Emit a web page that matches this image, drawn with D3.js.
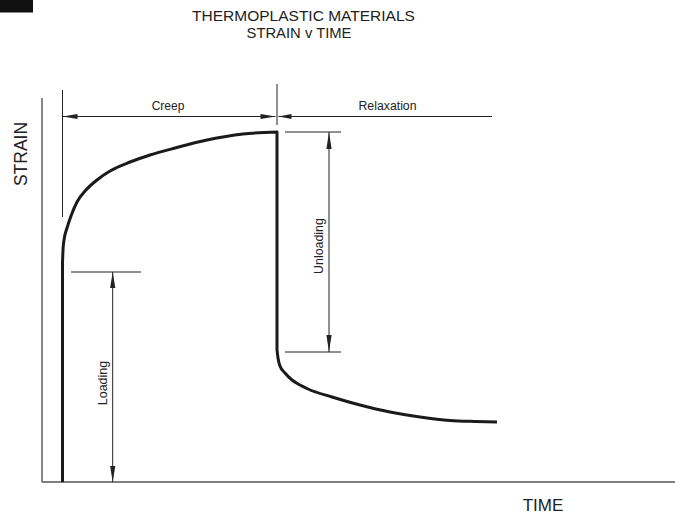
<!DOCTYPE html>
<html>
<head>
<meta charset="utf-8">
<script src="https://cdn.jsdelivr.net/npm/d3@7"></script>
<style>
  html, body { margin: 0; padding: 0; background: #fff; }
  svg { display: block; font-family: "Liberation Sans", Arial, Helvetica, sans-serif; }
</style>
</head>
<body>
<div id="chart"></div>
<script>
// ---------- DATA ----------
const titleLines = ["THERMOPLASTIC MATERIALS", "STRAIN v TIME"];
const xLabel = "TIME";
const yLabel = "STRAIN";
const phaseLabels = ["Creep", "Relaxation"];
const stepLabels = ["Loading", "Unloading"];

// strain curve: loading (first two points, straight) + creep (smooth)
const creepTime   = [2.05, 2.05, 2.1, 2.2, 2.5, 2.9, 3.5, 4.4, 5.5, 6.8, 8.8, 10.8, 13.3, 16.5, 20.1, 23.5];
const creepStrain = [0, 22.0, 23.2, 24.2, 25.4, 26.6, 28.0, 29.2, 30.2, 31.1, 32.0, 32.7, 33.4, 34.2, 34.8, 35.0];
// unloading (first two points, straight) + relaxation (smooth)
const relaxTime   = [23.5, 23.5, 23.6, 23.8, 24.3, 25.0, 25.8, 26.6, 29.0, 31.8, 34.8, 37.8, 40.8, 43.3, 45.5];
const relaxStrain = [35.0, 13.2, 12.4, 11.6, 10.9, 10.2, 9.7, 9.3, 8.5, 7.7, 7.0, 6.5, 6.15, 6.05, 6.0];

// key levels (data units)
const loadingLevel = 21;      // strain reached by instant loading
const unloadedLevel = 13;     // strain right after unloading
const relaxEndTime = 45;      // end of relaxation dimension line

// ---------- LAYOUT ----------
const W = 675, H = 514;
const x = d3.scaleLinear().domain([0, 63.3]).range([42, 675]);
const y = d3.scaleLinear().domain([0, 35]).range([482, 132]);

const svg = d3.select("#chart").append("svg").attr("width", W).attr("height", H);

// black tab in the corner
svg.append("rect").attr("x", 0).attr("y", 0).attr("width", 33).attr("height", 12.5).attr("fill", "#111");

// title
svg.append("text").attr("x", 303.5).attr("y", 20.5).attr("text-anchor", "middle")
  .attr("font-size", 15.5).attr("fill", "#222").text(titleLines[0]);
svg.append("text").attr("x", 299).attr("y", 38.3).attr("text-anchor", "middle")
  .attr("font-size", 14.8).attr("fill", "#222").text(titleLines[1]);

// axes (plain lines, no ticks)
const axisColor = "#555";
svg.append("line").attr("x1", x(0)).attr("x2", x(0)).attr("y1", y(38.4)).attr("y2", y(0))
  .attr("stroke", axisColor).attr("stroke-width", 1.4);
svg.append("line").attr("x1", x(0)).attr("x2", x(63.3)).attr("y1", y(0)).attr("y2", y(0))
  .attr("stroke", axisColor).attr("stroke-width", 1.6);

svg.append("text").attr("transform", `translate(27,154) rotate(-90)`).attr("text-anchor", "middle")
  .attr("font-size", 17.5).attr("fill", "#222").text(yLabel);
svg.append("text").attr("x", 543).attr("y", 511).attr("text-anchor", "middle")
  .attr("font-size", 17).attr("fill", "#222").text(xLabel);

// ---------- annotations ----------
const dimColor = "#222";
function hline(x1, x2, yy, w) {
  svg.append("line").attr("x1", x1).attr("x2", x2).attr("y1", yy).attr("y2", yy)
    .attr("stroke", dimColor).attr("stroke-width", w || 1);
}
function vline(xx, y1, y2, w) {
  svg.append("line").attr("x1", xx).attr("x2", xx).attr("y1", y1).attr("y2", y2)
    .attr("stroke", dimColor).attr("stroke-width", w || 1);
}
function arrow(tx, ty, dx, dy, L, hw) {
  L = L || 14; hw = hw || 2.8;
  const bx = tx - dx * L, by = ty - dy * L;
  const px = -dy, py = dx;
  svg.append("path")
    .attr("d", `M${tx},${ty}L${bx + px * hw},${by + py * hw}L${bx - px * hw},${by - py * hw}Z`)
    .attr("fill", dimColor);
}

const tStart = creepTime[0];
const tPeak = creepTime[creepTime.length - 1];
const dimY = 116.5;

// extension lines at top
vline(x(tStart), 90, 217);
vline(x(tPeak), 84, 125);

// creep dimension
hline(x(tStart), x(tPeak) - 1.5, dimY);
arrow(x(tStart), dimY, -1, 0, 15, 2.6);
arrow(x(tPeak) - 1.5, dimY, 1, 0, 15, 2.6);
svg.append("text").attr("x", 168).attr("y", 110).attr("text-anchor", "middle")
  .attr("font-size", 12).attr("fill", "#222").text(phaseLabels[0]);

// relaxation dimension
hline(x(tPeak) + 1.5, x(relaxEndTime), dimY);
arrow(x(tPeak) + 1.5, dimY, -1, 0, 13, 2.6);
svg.append("text").attr("x", 387.5).attr("y", 110).attr("text-anchor", "middle")
  .attr("font-size", 12.3).attr("fill", "#222").text(phaseLabels[1]);

// loading dimension
const loadX = 112.7;
hline(71, 141, y(loadingLevel));
vline(loadX, y(loadingLevel), y(0));
arrow(loadX, y(loadingLevel), 0, -1, 16, 2.6);
arrow(loadX, y(0), 0, 1, 16, 2.6);
svg.append("text").attr("transform", `translate(106.5,${(y(loadingLevel) + y(0)) / 2 + 6}) rotate(-90)`)
  .attr("text-anchor", "middle").attr("font-size", 12.5).attr("fill", "#222").text(stepLabels[0]);

// unloading dimension
const unloadX = 329;
hline(285, 341, y(35));
hline(285, 341, y(unloadedLevel));
vline(unloadX, y(35), y(unloadedLevel));
arrow(unloadX, y(35), 0, -1, 17, 2.6);
arrow(unloadX, y(unloadedLevel), 0, 1, 17, 2.6);
svg.append("text").attr("transform", `translate(322.5,246) rotate(-90)`)
  .attr("text-anchor", "middle").attr("font-size", 12.4).attr("fill", "#222").text(stepLabels[1]);

// ---------- strain curve ----------
const creepPts = creepTime.map((t, i) => [t, creepStrain[i]]);
const relaxPts = relaxTime.map((t, i) => [t, relaxStrain[i]]);
const straight = d3.line().x(d => x(d[0])).y(d => y(d[1]));
const smooth = d3.line().x(d => x(d[0])).y(d => y(d[1])).curve(d3.curveMonotoneX);
const cont = s => s.replace(/^M/, "L");
const d = straight(creepPts.slice(0, 2)) +
          cont(smooth(creepPts.slice(1))) +
          cont(straight(relaxPts.slice(0, 2))) +
          cont(smooth(relaxPts.slice(1)));
svg.append("path").attr("d", d)
  .attr("fill", "none").attr("stroke", "#1a1a1a").attr("stroke-width", 3)
  .attr("stroke-linejoin", "round").attr("stroke-linecap", "butt");
</script>
</body>
</html>
